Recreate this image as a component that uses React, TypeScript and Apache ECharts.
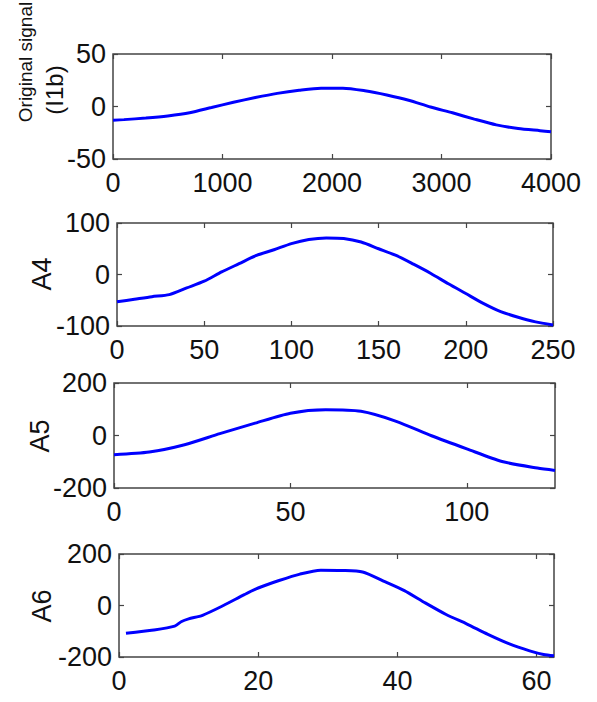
import React, { useEffect, useRef } from "react";
import * as echarts from "echarts";

// Panel 1: original signal (I1b)
const origX = [0, 100, 300, 500, 700, 900, 1100, 1300, 1500, 1700, 1900, 2100, 2300, 2500, 2700, 2900, 3100, 3300, 3500, 3700, 3900, 4000];
const origY = [-13, -12.5, -11, -9, -6, -1, 4, 8.5, 12.5, 15.5, 17.5, 17.5, 15, 11, 6, -0.5, -6, -12, -17.5, -21, -23, -24];

// Panel 2: A4
const a4X = [0, 10, 20, 30, 40, 50, 60, 70, 80, 90, 100, 110, 120, 130, 140, 150, 160, 170, 180, 190, 200, 210, 220, 230, 240, 250];
const a4Y = [-53, -48, -43, -39, -26, -13, 5, 21, 37, 48, 60, 68, 71, 70, 63, 50, 37, 20, 2, -18, -37, -56, -72, -83, -92, -98];

// Panel 3: A5
const a5X = [0, 10, 20, 30, 40, 50, 60, 70, 80, 90, 100, 110, 120, 125];
const a5Y = [-73, -63, -35, 7, 47, 85, 98, 92, 54, -1, -51, -99, -124, -133];

// Panel 4: A6
const a6X = [1, 5, 8, 9, 10, 12, 15, 18, 20, 23, 26, 29, 32, 35, 38, 41, 44, 47, 50, 53, 56, 59, 61, 62.5];
const a6Y = [-108, -95, -80, -62, -52, -38, 0, 42, 68, 97, 122, 137, 136, 130, 95, 58, 10, -35, -72, -112, -148, -176, -190, -195];

const names = ["", "A4", "A5", "A6"];
const xMax = [4000, 250, 125, 62.5];
const xStep = [1000, 50, 50, 20];
const yMin = [-50, -100, -200, -200];
const yMax = [50, 100, 200, 200];
const yStep = [50, 100, 200, 200];
const xs = [origX, a4X, a5X, a6X];
const ys = [origY, a4Y, a5Y, a6Y];

const grids = [
  { left: 113, top: 54, width: 438, height: 105 },
  { left: 117, top: 223, width: 436, height: 103 },
  { left: 114, top: 383, width: 441, height: 105 },
  { left: 119, top: 554, width: 435, height: 103 },
];

const FONT = "Liberation Sans, Arial, sans-serif";
const AX = "#444";
const FS = 27;

export default function App() {
  const ref = useRef<HTMLDivElement>(null);
  useEffect(() => {
    const chart = echarts.init(ref.current!, null, { renderer: "svg" });
    const xAxis: any[] = [];
    const yAxis: any[] = [];
    const series: any[] = [];
    grids.forEach((_, i) => {
      const tick = { show: true, inside: true, length: 5, lineStyle: { color: AX, width: 1.2 } };
      const hideLine = { show: false, onZero: false };
      xAxis.push({
        type: "value", gridIndex: i, position: "bottom", min: 0, max: xMax[i], interval: xStep[i],
        axisLine: hideLine, axisTick: tick, splitLine: { show: false },
        axisLabel: {
          color: "#111", fontSize: FS, fontFamily: FONT, margin: 10,
          formatter: (v: number) => String(v),
          showMaxLabel: xMax[i] % xStep[i] === 0, showMinLabel: true,
        },
      });
      xAxis.push({
        type: "value", gridIndex: i, position: "top", min: 0, max: xMax[i], interval: xStep[i],
        axisLine: hideLine, axisTick: tick, splitLine: { show: false }, axisLabel: { show: false },
      });
      yAxis.push({
        type: "value", gridIndex: i, position: "left", min: yMin[i], max: yMax[i], interval: yStep[i],
        axisLine: hideLine, axisTick: tick, splitLine: { show: false },
        axisLabel: { color: "#111", fontSize: FS, fontFamily: FONT, margin: 7, formatter: (v: number) => String(v), showMinLabel: true, showMaxLabel: true },
      });
      yAxis.push({
        type: "value", gridIndex: i, position: "right", min: yMin[i], max: yMax[i], interval: yStep[i],
        axisLine: hideLine, axisTick: tick, splitLine: { show: false }, axisLabel: { show: false },
      });
      series.push({
        type: "line", xAxisIndex: i * 2, yAxisIndex: i * 2, showSymbol: false, symbol: "none",
        data: xs[i].map((x, k) => [x, ys[i][k]]),
        lineStyle: { color: "#0000ff", width: 3 }, smooth: 0.25,
      });
    });
    const nameStyle = { fill: "#111", fontSize: 27, fontFamily: FONT, textAlign: "center", textVerticalAlign: "middle" };
    const centers = [
      null,
      { x: 42, y: 274 },
      { x: 40, y: 436 },
      { x: 42, y: 606 },
    ];
    const graphic: any[] = [
      { type: "text", x: 25, y: 62, rotation: Math.PI / 2, style: { ...nameStyle, fontSize: 19, text: "Original signal" } },
      { type: "text", x: 54, y: 90, rotation: Math.PI / 2, style: { ...nameStyle, fontSize: 24, text: "(I1b)" } },
    ];
    centers.forEach((c, i) => {
      if (c) graphic.push({ type: "text", x: c.x, y: c.y, rotation: Math.PI / 2, style: { ...nameStyle, text: names[i] } });
    });
    chart.setOption({
      animation: false,
      backgroundColor: "#fff",
      grid: grids.map((g) => ({ ...g, show: true, borderColor: AX, borderWidth: 1.5, backgroundColor: "transparent" })),
      xAxis, yAxis, series, graphic,
    });
    return () => chart.dispose();
  }, []);
  return <div ref={ref} style={{ position: "absolute", left: 0, top: 0, width: 597, height: 702, background: "#fff" }} />;
}
